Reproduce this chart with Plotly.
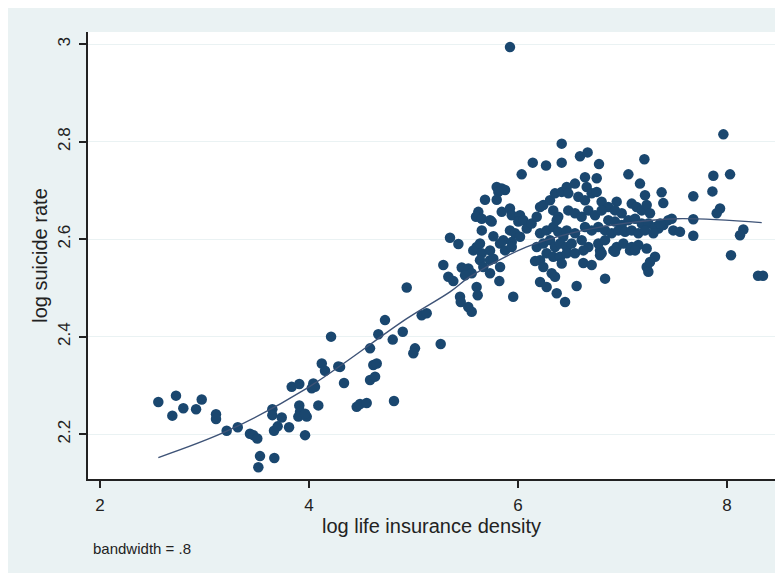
import plotly.graph_objects as go

# ---- data ----
log_density = [
    2.558, 2.727, 2.692, 2.797, 2.919, 2.973, 3.110, 3.110, 3.212, 3.318,
    3.435, 3.467, 3.505, 3.531, 3.668, 3.515, 3.649, 3.649, 3.739, 3.665,
    3.700, 3.809, 3.834, 3.907, 3.907, 3.914, 3.898, 3.962, 3.978,
    3.962, 4.041, 4.057, 4.026, 4.089, 4.122, 4.153, 4.280, 4.297, 4.335,
    4.211, 4.456, 4.488, 4.552, 4.584, 4.632, 4.615, 4.648, 4.584, 4.663,
    4.727, 4.801, 4.813, 4.897, 4.935, 5.014, 4.998, 5.078, 5.126, 5.260,
    5.285, 5.333,
    6.141, 6.268, 6.418, 6.035, 5.796, 5.844, 5.876, 5.812, 5.684, 5.796,
    5.620, 5.598, 5.653, 5.732, 5.748, 5.844, 5.923, 5.940, 6.019, 6.003,
    6.051, 5.653, 5.764, 5.859, 5.940, 5.923, 5.971, 6.019, 5.349, 5.429,
    5.572, 5.604, 5.636, 5.653, 5.732, 5.732, 5.828, 5.876, 5.940, 5.461,
    5.525, 5.557, 5.493, 5.636, 5.668, 5.764, 5.828, 5.732, 5.381, 5.821,
    5.604, 5.614, 5.445, 5.452, 5.524, 5.557, 5.954,
    6.083, 6.130, 6.179, 6.211, 6.242, 6.306, 6.354, 6.418, 6.466, 6.211,
    6.274, 6.337, 6.385, 6.433, 6.466, 6.179, 6.242, 6.306, 6.354, 6.402,
    6.466, 6.274, 6.337, 6.211, 6.402, 6.466, 6.163, 6.242, 6.322, 6.354,
    6.211, 6.274, 6.370, 6.450, 6.418, 6.337, 6.385, 6.370,
    5.923, 6.418, 6.593, 6.666, 6.775, 7.209, 7.056, 7.167, 6.641, 6.753,
    6.545, 6.657, 7.374, 7.215, 7.390, 7.677, 7.869, 8.029, 7.965, 7.860,
    7.933, 7.901, 7.677, 7.677, 7.471, 7.486, 7.550, 8.156, 8.124, 8.038,
    8.297, 8.344, 6.561, 6.833, 6.625, 6.705, 6.785, 6.800, 6.912, 6.944,
    7.072, 7.231, 7.231, 7.247, 7.311, 7.343, 7.391, 7.438,
    6.481, 6.577, 6.641, 6.705, 6.753, 6.800, 6.864, 6.944, 6.928, 6.992,
    7.088, 7.135, 7.184, 7.231, 7.263, 6.481, 6.545, 6.609, 6.673, 6.737,
    6.800, 6.864, 6.928, 6.992, 7.056, 7.120, 7.184, 7.247, 7.311, 7.359,
    6.545, 6.641, 6.705, 6.768, 6.833, 6.896, 6.960, 7.024, 7.088, 7.151,
    7.215, 7.295, 6.513, 6.609, 6.673, 6.768, 6.833, 7.008, 7.088, 7.151,
    6.545, 6.625, 6.928, 7.120, 6.785, 7.263,
]
log_suicide = [
    2.266, 2.279, 2.238, 2.253, 2.251, 2.271, 2.241, 2.231, 2.207, 2.214,
    2.201, 2.198, 2.191, 2.155, 2.151, 2.132, 2.251, 2.239, 2.234, 2.207,
    2.216, 2.214, 2.297, 2.303, 2.259, 2.246, 2.236, 2.198, 2.236,
    2.242, 2.304, 2.297, 2.294, 2.259, 2.345, 2.330, 2.339, 2.338, 2.305,
    2.400, 2.256, 2.262, 2.264, 2.311, 2.318, 2.342, 2.345, 2.376, 2.405,
    2.434, 2.394, 2.268, 2.410, 2.501, 2.376, 2.366, 2.444, 2.448, 2.385,
    2.547, 2.523,
    2.757, 2.751, 2.757, 2.733, 2.707, 2.704, 2.701, 2.697, 2.681, 2.681,
    2.656, 2.646, 2.642, 2.639, 2.636, 2.656, 2.663, 2.649, 2.649, 2.636,
    2.639, 2.618, 2.606, 2.598, 2.594, 2.618, 2.612, 2.605, 2.603, 2.590,
    2.577, 2.584, 2.591, 2.571, 2.577, 2.557, 2.591, 2.577, 2.584, 2.542,
    2.540, 2.530, 2.526, 2.557, 2.543, 2.560, 2.543, 2.530, 2.514, 2.514,
    2.502, 2.485, 2.482, 2.471, 2.461, 2.451, 2.482,
    2.622, 2.632, 2.646, 2.666, 2.670, 2.680, 2.694, 2.697, 2.707, 2.612,
    2.618, 2.625, 2.615, 2.605, 2.618, 2.584, 2.591, 2.598, 2.584, 2.591,
    2.584, 2.571, 2.564, 2.557, 2.564, 2.571, 2.555, 2.543, 2.530, 2.523,
    2.512, 2.502, 2.489, 2.471, 2.550, 2.659, 2.646, 2.639,
    2.994, 2.796, 2.770, 2.778, 2.754, 2.764, 2.733, 2.714, 2.727, 2.725,
    2.714, 2.707, 2.696, 2.690, 2.674, 2.688, 2.730, 2.733, 2.815, 2.698,
    2.663, 2.653, 2.641, 2.607, 2.642, 2.618, 2.615, 2.620, 2.608, 2.567,
    2.525, 2.525, 2.504, 2.519, 2.551, 2.547, 2.577, 2.571, 2.577, 2.584,
    2.577, 2.581, 2.543, 2.533, 2.564, 2.622, 2.629, 2.639,
    2.694, 2.687, 2.680, 2.694, 2.697, 2.677, 2.666, 2.677, 2.659, 2.653,
    2.673, 2.666, 2.659, 2.670, 2.653, 2.659, 2.653, 2.646, 2.659, 2.649,
    2.659, 2.639, 2.636, 2.629, 2.639, 2.642, 2.632, 2.632, 2.625, 2.632,
    2.612, 2.625, 2.618, 2.625, 2.618, 2.612, 2.618, 2.615, 2.618, 2.612,
    2.618, 2.612, 2.591, 2.598, 2.584, 2.591, 2.598, 2.591, 2.584, 2.588,
    2.571, 2.577, 2.574, 2.577, 2.567, 2.553,
]

# lowess curve (bandwidth = .8)
lowess_x = [2.558, 3.212, 3.978, 4.935, 5.349, 5.541, 6.083, 6.5, 7.0, 7.519, 8.332]
lowess_y = [2.152, 2.206, 2.294, 2.437, 2.492, 2.523, 2.584, 2.612, 2.632, 2.642, 2.634]

x_ticks = [2, 4, 6, 8]
y_ticks = [2.2, 2.4, 2.6, 2.8, 3]
y_tick_text = ["2.2", "2.4", "2.6", "2.8", "3"]

# ---- figure ----
# the page body adds an 8px offset; the figure overflows to fill the window
W, H = 783, 573
ML, MR, MT, MB = 80, 16, 24, 102
PW, PH = W - ML - MR, H - MT - MB
bg = "#eaf2f3"
navy = "#1a476f"

fig = go.Figure()
fig.add_trace(go.Scatter(
    x=log_density, y=log_suicide, mode="markers",
    marker=dict(color=navy, size=10.5, line=dict(width=0)),
    showlegend=False, hoverinfo="skip",
))
fig.add_trace(go.Scatter(
    x=lowess_x, y=lowess_y, mode="lines", line_shape="spline",
    line=dict(color="#3e5377", width=1.4),
    showlegend=False, hoverinfo="skip",
))

font_family = "Liberation Sans, Arial, sans-serif"

fig.update_layout(
    width=W, height=H,
    margin=dict(l=ML, r=MR, t=MT, b=MB),
    paper_bgcolor=bg, plot_bgcolor="white",
    font=dict(family=font_family, color="#222222"),
    xaxis=dict(
        range=[1.885, 8.459], tickvals=x_ticks, ticks="outside", ticklen=7,
        tickwidth=1.5, tickcolor="#222", showline=True, linecolor="#222",
        linewidth=1.5, showgrid=False, zeroline=False,
        tickfont=dict(size=17), ticklabelstandoff=3,
        title=dict(text="log life insurance density", font=dict(size=20), standoff=0),
    ),
    yaxis=dict(
        range=[2.108, 3.025], tickvals=y_ticks, ticktext=y_tick_text,
        ticks="outside", ticklen=7, tickwidth=1.5, tickcolor="#222",
        showline=True, linecolor="#222", linewidth=1.5,
        showgrid=True, gridcolor=bg, gridwidth=1.2, zeroline=False,
        tickangle=-90, tickfont=dict(size=17), ticklabelstandoff=2,
        title=dict(text="log suicide rate", font=dict(size=20), standoff=2),
    ),
    annotations=[dict(
        text="bandwidth = .8", xref="paper", yref="paper",
        x=(83 - ML) / PW, y=(H - MB - 540) / PH, xanchor="left", yanchor="middle",
        showarrow=False, font=dict(size=15, color="#222222"),
    )],
)

fig.write_html("out.html")
